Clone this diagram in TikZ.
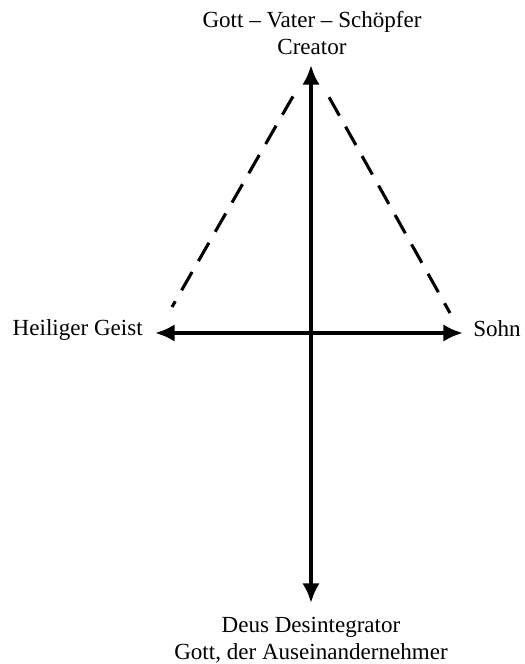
\documentclass[tikz,border=0pt]{standalone}
\usepackage{fontspec}
\setmainfont{Liberation Serif}
\usetikzlibrary{arrows.meta, calc, positioning}

\begin{document}
\begin{tikzpicture}[>={Latex[length=14pt,width=12.5pt]},
    achse/.style={<->, line width=2.8pt},
    strich/.style={line width=2.2pt, dash pattern=on 15pt off 9pt},
    beschr/.style={inner sep=0pt, font=\fontsize{16.4}{19}\selectfont, align=center}]
    % Rahmen
    \useasboundingbox (0,0) rectangle (13.1,16.6);

    % Endpunkte der Achsen
    \coordinate (oben) at (7.775,14.975);
    \coordinate (unten) at (7.775,1.525);
    \coordinate (links) at (3.875,8.275);
    \coordinate (rechts) at (11.575,8.275);
    \coordinate (dl) at (4.3,8.925);
    \coordinate (dr) at (11.25,8.775);

    % Beschriftungen
    \node[beschr, anchor=south] (vater) at (7.8,15.225) {Gott -- Vater -- Schöpfer\\Creator};
    \node[beschr, anchor=north] (deus) at (7.775,1.18) {Deus Desintegrator\\Gott, der Auseinandernehmer};
    \node[beschr, anchor=base east] (geist) at (3.575,8.2) {Heiliger Geist};
    \node[beschr, anchor=base west] (sohn) at (11.825,8.175) {Sohn};

    % Achsen
    \draw[achse] (unten) -- (oben);
    \draw[achse] (links) -- (rechts);

    % gestrichelte Linien
    \draw[strich] ($(oben)!0.13!(dl)$) -- (dl);
    \draw[strich] ($(oben)!0.13!(dr)$) -- (dr);
\end{tikzpicture}
\end{document}
